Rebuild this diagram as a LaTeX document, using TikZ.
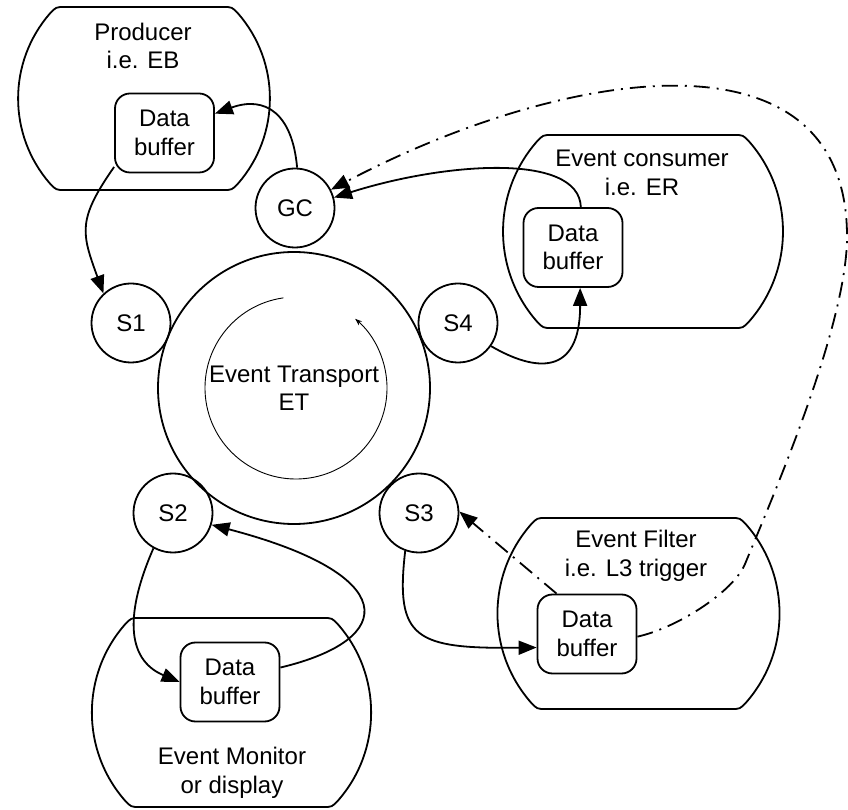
\documentclass[tikz,border=0pt]{standalone}
\usepackage{fontspec}
\setmainfont{Liberation Sans}
\usetikzlibrary{arrows.meta,calc}
\tikzset{
  every node/.style={font=\fontsize{24}{28.5}\selectfont, inner sep=0pt},
  lw/.style={line width=1.8pt},
  station/.style={circle, draw, line width=1.8pt, minimum size=79pt},
  databuf/.style={draw, line width=1.8pt, rounded corners=15pt, minimum width=99pt, minimum height=79pt, align=center},
  cont/.style={draw, line width=1.8pt},
  conn/.style={line width=1.8pt, -{Triangle[length=18pt,width=14pt]}},
  dd/.style={conn, dash pattern=on 16pt off 7pt on 2pt off 7pt},
  lbl/.style={align=center},
}
\newcommand\evbox[4]{%
  \pgfmathsetmacro\evR{(#3-#4)*0.70711}%
  \pgfmathsetmacro\evM{(#3+#4)/2}%
  \pgfmathsetmacro\evH{(#3-#4)/2}%
  \pgfmathsetmacro\evA{45-9/\evR*57.2958}%
  \draw[cont] ({#1+9},#3) -- ({#2-9},#3)
    .. controls (#2,#3) .. ([shift={({#2-\evH},\evM)}]\evA:\evR)
    arc[start angle=\evA, end angle=-\evA, radius=\evR]
    .. controls (#2,#4) .. ({#2-9},#4)
    -- ({#1+9},#4)
    .. controls (#1,#4) .. ([shift={({#1+\evH},\evM)}]{180+\evA}:\evR)
    arc[start angle={180+\evA}, end angle={180-\evA}, radius=\evR]
    .. controls (#1,#3) .. ({#1+9},#3) -- cycle;}
\begin{document}
\begin{tikzpicture}[x=1pt,y=1pt]
\useasboundingbox (0,0) rectangle (848,809);
% containers
\evbox{56}{232}{802}{619}
\evbox{543}{743}{674}{481}
\evbox{537}{740}{291}{100}
\evbox{131}{332}{191}{2}
% container labels
\node[lbl] (prodl) at (143,763) {Producer\\i.e. EB};
\node[lbl] (consl) at (642,636) {Event consumer\\i.e. ER};
\node[lbl] (filtl) at (636,253) {Event Filter\\i.e. L3 trigger};
\node[lbl] (monl) at (232,36) {Event Monitor\\or display};
% data buffers
\node[databuf] (pbuf) at (164.5,676) {Data\\buffer};
\node[databuf] (cbuf) at (573,561.5) {Data\\buffer};
\node[databuf] (fbuf) at (587,175) {Data\\buffer};
\node[databuf] (mbuf) at (230,127) {Data\\buffer};
% stations
\node[station] (gc) at (295,601) {GC};
\node[station] (s1) at (131,486) {S1};
\node[station] (s4) at (458,486) {S4};
\node[station] (s2) at (173,296) {S2};
\node[station] (s3) at (419,296) {S3};
% ring
\node[circle, draw, lw, minimum size=272pt, align=center] (et) at (294,421) {Event Transport\\ET};
\draw[line width=0.9pt, -{Stealth[length=7pt,width=5pt]}] ([xshift=2pt]et.center) ++(98:91) arc[start angle=98, end angle=409.5, radius=91];
% connectors
\draw[conn] (pbuf.214) to[out=235, in=110, looseness=1.3] (s1.133);
\draw[conn] (gc.87) to[out=95, in=20, looseness=1.4] (pbuf.21);
\draw[conn] (cbuf.79) .. controls +(-2,55) and +(110,35) .. (gc.15);
\draw[conn] (s4.-35) .. controls +(43,-25) and +(0,-90) .. (cbuf.280);
\draw[conn] (s2.241) .. controls (126,198) and (125,150) .. (mbuf.west);
\draw[conn] (mbuf.16) .. controls (400,170) and (400,235) .. (s2.-17);
\draw[conn] (s3.250) .. controls (395,170) and (415,160) .. (fbuf.195);
\draw[dd] (fbuf.127) -- (s3.2);
\draw[dd] (fbuf.-3) .. controls (677,181) and (733.5,217.3) .. (745,245)
  .. controls (775.6,318.9) and (845,480) .. (847,569)
  .. controls (850,790) and (560,740) .. (gc.27);
\end{tikzpicture}
\end{document}
